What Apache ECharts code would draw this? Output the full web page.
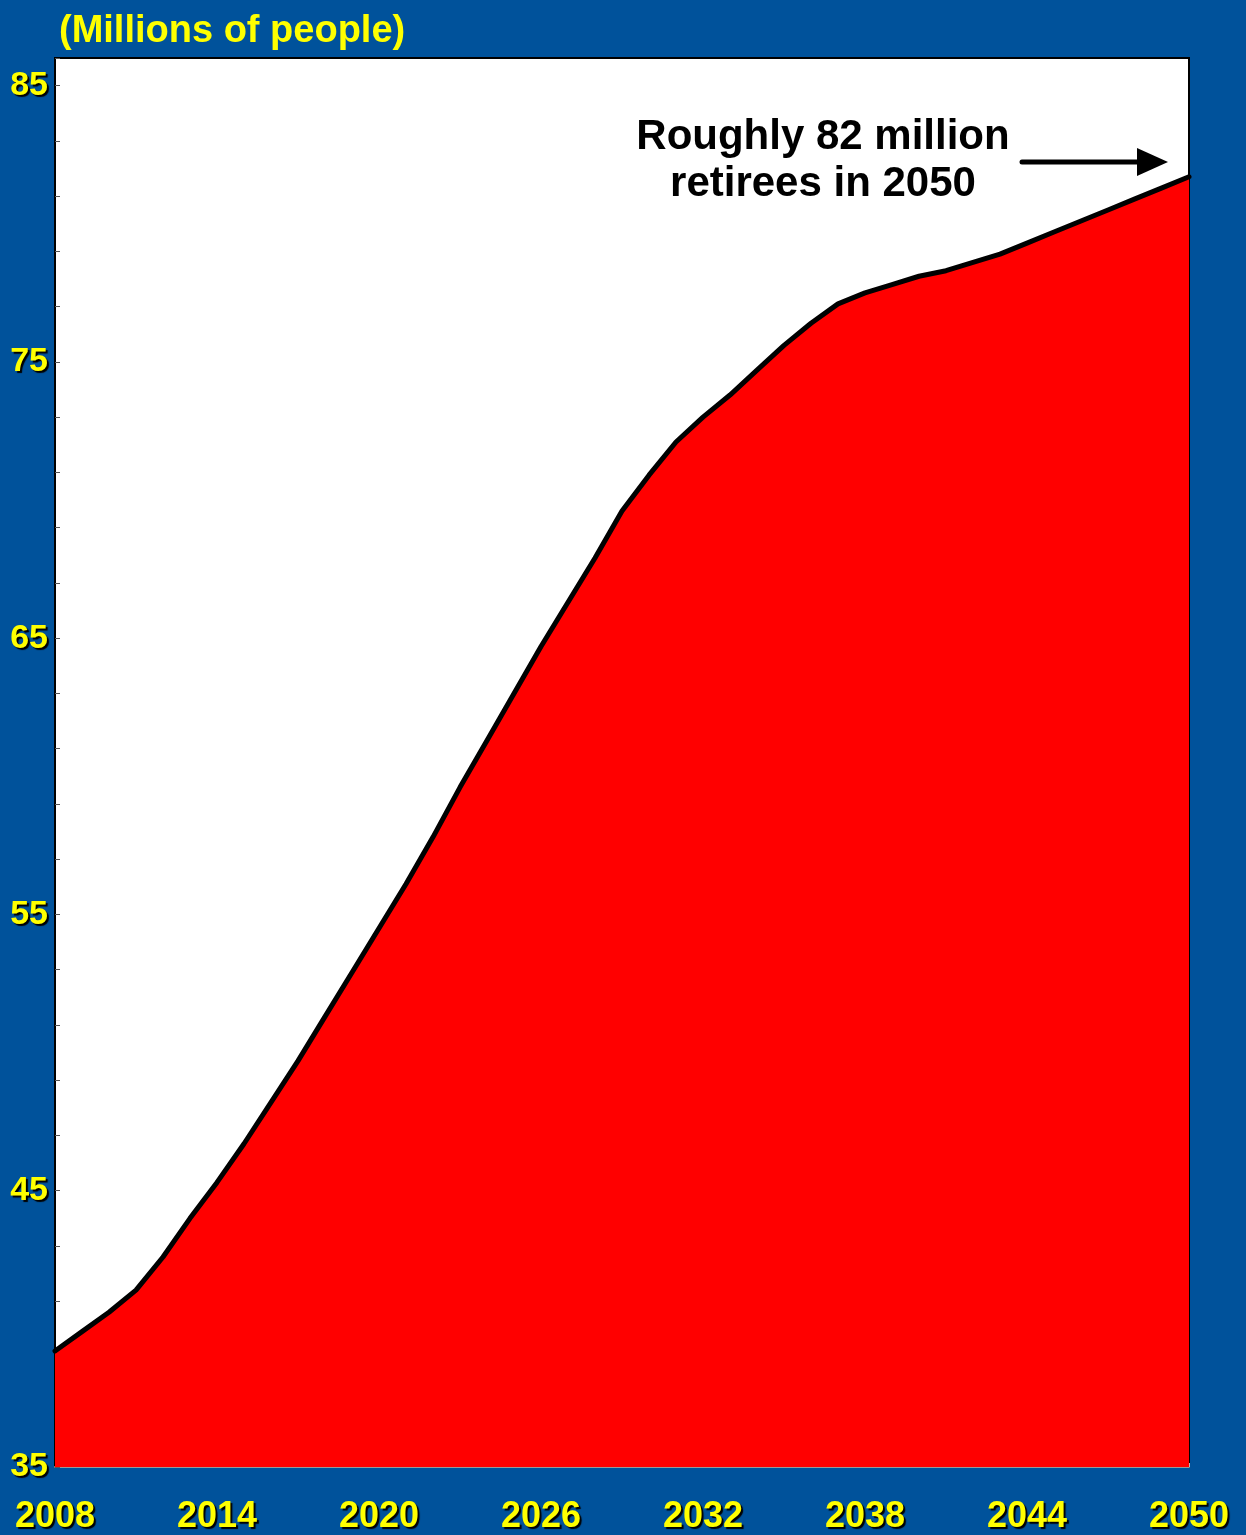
<!DOCTYPE html>
<html>
<head>
<meta charset="utf-8">
<script src="https://cdn.jsdelivr.net/npm/echarts@6/dist/echarts.min.js"></script>
<style>
  html, body { margin: 0; padding: 0; background: #00529B; }
  #chart { width: 1246px; height: 1535px; }
</style>
</head>
<body>
<div id="chart"></div>
<script>
// retirees, millions of people, by year
var years = []
for (var y = 2008; y <= 2050; y++) years.push(String(y))
var retirees = [
  39.2, 39.9, 40.6, 41.4, 42.6, 44.0, 45.3, 46.7, 48.2, 49.7,
  51.3, 52.9, 54.5, 56.1, 57.8, 59.6, 61.3, 63.0, 64.7, 66.3,
  67.9, 69.6, 70.9, 72.1, 73.0, 73.8, 74.7, 75.6, 76.4, 77.1,
  77.5, 77.8, 78.1, 78.3, 78.6, 78.9, 79.3, 79.7, 80.1, 80.5,
  80.9, 81.3, 81.7
]
var yLabels = [35, 45, 55, 65, 75, 85]
var unitTitle = '(Millions of people)'
var noteLines = ['Roughly 82 million', 'retirees in 2050']

var font = '"Liberation Sans", Arial, sans-serif'
var yellowText = {
  color: '#FFFF00',
  fontWeight: 'bold',
  fontFamily: font,
  textShadowColor: '#000',
  textShadowOffsetX: 2,
  textShadowOffsetY: 2,
  textShadowBlur: 1
}

var chart = echarts.init(document.getElementById('chart'))
chart.setOption({
  backgroundColor: '#00529B',
  animation: false,
  grid: {
    left: 55,
    right: 57,
    top: 58,
    bottom: 66,
    show: true,
    backgroundColor: '#fff',
    borderColor: '#000',
    borderWidth: 2
  },
  xAxis: {
    type: 'category',
    data: years,
    boundaryGap: false,
    axisLine: { lineStyle: { color: '#999', width: 2 } },
    axisTick: { show: true, inside: true, interval: 0, length: 4, lineStyle: { color: '#bbb' } },
    axisLabel: Object.assign({
      fontSize: 36,
      margin: 32,
      interval: function (idx) { return idx % 6 === 0 }
    }, yellowText),
    splitLine: { show: false }
  },
  yAxis: {
    type: 'value',
    min: 35,
    max: 86,
    interval: 2,
    axisLine: { show: true, lineStyle: { color: '#000', width: 2 } },
    axisTick: { show: true, inside: true, length: 5, lineStyle: { color: '#555' } },
    axisLabel: Object.assign({
      fontSize: 34,
      margin: 7,
      formatter: function (v) { return yLabels.indexOf(v) >= 0 ? String(v) : '' }
    }, yellowText),
    splitLine: { show: false }
  },
  series: [{
    type: 'line',
    data: retirees,
    smooth: false,
    showSymbol: false,
    lineStyle: { color: '#000', width: 5, join: 'round', cap: 'round' },
    areaStyle: { color: '#FF0000', opacity: 1, origin: 'start' }
  }],
  graphic: [
    {
      type: 'text',
      left: 59,
      top: 13,
      style: {
        text: unitTitle,
        fontSize: 38,
        fontWeight: 'bold',
        fontFamily: font,
        fill: '#FFFF00',
        shadowColor: '#000',
        shadowOffsetX: 2,
        shadowOffsetY: 2,
        shadowBlur: 1
      }
    },
    {
      type: 'text',
      x: 823,
      y: 114,
      style: {
        text: noteLines.join('\n'),
        fontSize: 42,
        fontWeight: 'bold',
        fontFamily: font,
        fill: '#000',
        align: 'center',
        lineHeight: 47
      }
    },
    {
      type: 'line',
      shape: { x1: 1022, y1: 162, x2: 1140, y2: 162 },
      style: { stroke: '#000', lineWidth: 5, lineCap: 'round' }
    },
    {
      type: 'polygon',
      shape: { points: [[1137, 148], [1168, 162], [1137, 176]] },
      style: { fill: '#000' }
    }
  ]
})
</script>
</body>
</html>
